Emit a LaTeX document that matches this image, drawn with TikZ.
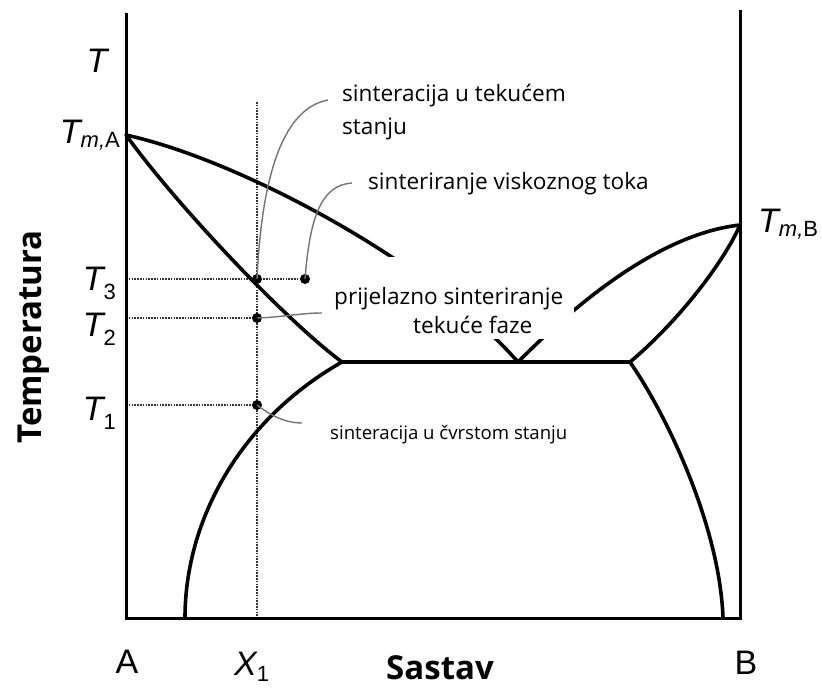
\documentclass[tikz,border=0pt]{standalone}
\usepackage{fontspec}
\setmainfont{Open Sans}
\newfontfamily\axfont{Liberation Sans}
\begin{document}
\begin{tikzpicture}[x=1pt,y=-1pt,
  curve/.style={line width=3.6pt, line join=round, line cap=round},
  axisline/.style={line width=3pt, line join=miter},
  guide/.style={line width=2pt, color=black!80, dash pattern=on 1.6pt off 1.2pt},
  leader/.style={line width=1.4pt, color=black!55},
  pt/.style={circle, fill=black, inner sep=0pt, minimum size=10pt},
  lab/.style={font=\fontsize{22.6}{27}\selectfont, inner sep=0pt, anchor=base west},
  smalllab/.style={font=\fontsize{18.6}{22}\selectfont, inner sep=0pt, anchor=base west},
  sym/.style={font=\axfont\fontsize{34}{34}\selectfont, inner sep=0pt},
  title/.style={font=\bfseries\fontsize{33}{33}\selectfont, inner sep=0pt, anchor=base},
]
\useasboundingbox (0,0) rectangle (822,688);
\coordinate (TmA) at (126,135);
\coordinate (TmB) at (740,225);
\coordinate (E) at (518,362);
\coordinate (EL) at (342,362);
\coordinate (ER) at (630,362);
\coordinate (SA) at (185,618);
\coordinate (SB) at (723,618);
% guides
\draw[guide] (257,102) -- (257,618);
\draw[guide] (126,279) -- (305,279);
\draw[guide] (126,318) -- (257,318);
\draw[guide] (126,405) -- (257,405);
% axes
\draw[axisline] (126,13) -- (126,618) -- (740,618) -- (740,10);
% phase boundaries
\draw[curve] (TmA) .. controls (240,160) and (430,262) .. (E);
\draw[curve] (E) .. controls (560,320) and (650,235) .. (TmB);
\draw[curve] (TmA) .. controls (175,203) and (283,318) .. (EL);
\draw[curve] (EL) -- (ER);
\draw[curve] (TmB) .. controls (725,260) and (680,320) .. (ER);
\draw[curve] (EL) .. controls (240,420) and (185,520) .. (SA);
\draw[curve] (ER) .. controls (670,420) and (720,530) .. (SB);
% white label box
\fill[white] (326,257) rectangle (574,339);
% dots
\node[pt] (d3) at (257,279) {};
\node[pt] (d3b) at (305,279) {};
\node[pt] (d2) at (257,318) {};
\node[pt] (d1) at (257,405) {};
% leaders
\coordinate (e1) at (328,100);
\coordinate (e2) at (352,183);
\coordinate (e3) at (322,313);
\coordinate (e4) at (302,423);
\draw[leader] (d3.center) .. controls (262,170) and (285,108) .. (e1);
\draw[leader] (d3b.center) .. controls (310,215) and (322,185) .. (e2);
\draw[leader] (d2.center) .. controls (285,317) and (300,313) .. (e3);
\draw[leader] (d1.center) .. controls (270,415) and (285,423) .. (e4);
% labels
\node[lab] (l1) at (342,101) {sinteracija u tekućem};
\node[lab] (l1b) at (342,134) {stanju};
\node[lab] (l2) at (368,189) {sinteriranje viskoznog toka};
\node[lab] (l3) at (334,304) {prijelazno sinteriranje};
\node[lab] (l3b) at (413,333) {tekuće faze};
\node[smalllab] (l4) at (330,439) {sinteracija u čvrstom stanju};
% axis symbols
\node[sym, anchor=base] (tT) at (97,72) {\itshape T};
\node[sym, anchor=base east] (tA) at (120,143) {\itshape T\fontsize{22}{22}\selectfont\raisebox{-4pt}{m,\upshape A}};
\node[sym, anchor=base west] (tB) at (758,232) {\itshape T\fontsize{22}{22}\selectfont\raisebox{-4pt}{m,\upshape B}};
\node[sym, anchor=base east] (t3) at (116,290) {\itshape T\fontsize{22}{22}\selectfont\raisebox{-9pt}{\upshape 3}};
\node[sym, anchor=base east] (t2) at (116,336) {\itshape T\fontsize{22}{22}\selectfont\raisebox{-9pt}{\upshape 2}};
\node[sym, anchor=base east] (t1) at (116,420) {\itshape T\fontsize{22}{22}\selectfont\raisebox{-9pt}{\upshape 1}};
\node[sym, anchor=base] (xA) at (127,673) {A};
\node[sym, anchor=base] (xB) at (746,674) {B};
\node[sym, anchor=base west] (x1) at (234,675) {\itshape X\fontsize{22}{22}\selectfont\raisebox{-6pt}{\upshape 1}};
\node[title] (sastav) at (440,679) {Sastav};
\node[title, rotate=90] (temp) at (41,337) {Temperatura};
\end{tikzpicture}
\end{document}
